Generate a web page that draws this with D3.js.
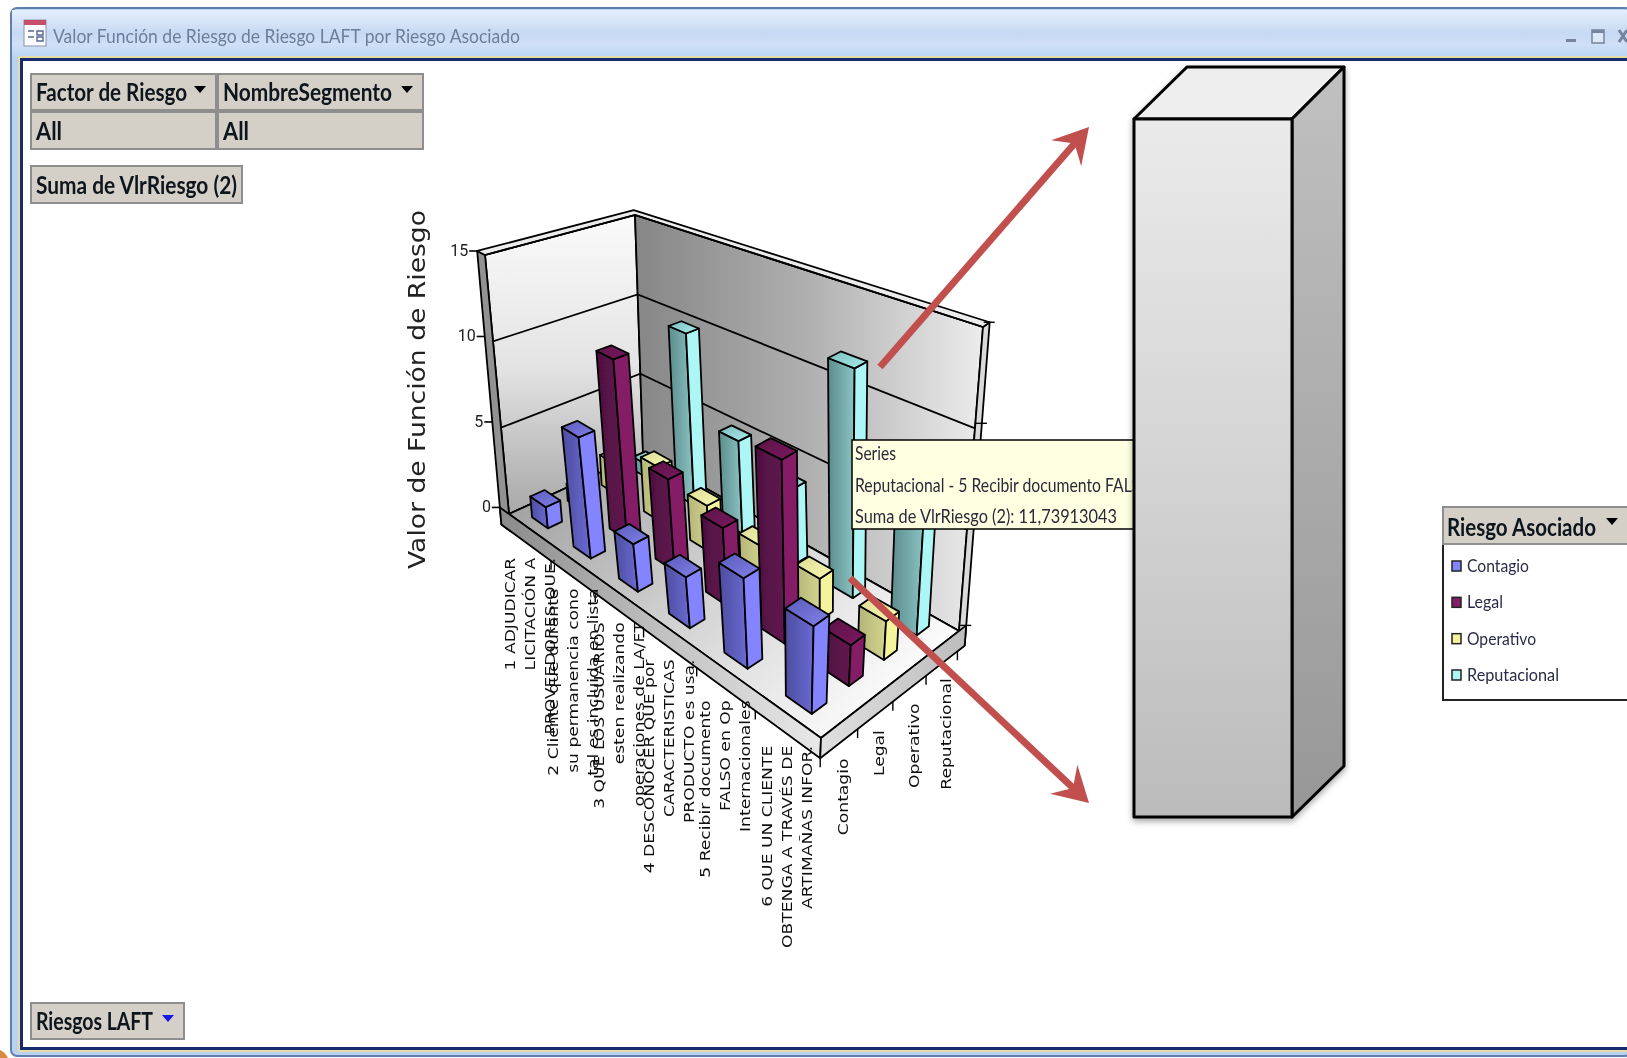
<!DOCTYPE html>
<html>
<head>
<meta charset="utf-8">
<title>Valor Función de Riesgo</title>
<script src="https://cdn.jsdelivr.net/npm/d3@7"></script>
<style>
  html, body { margin: 0; padding: 0; background: #fff; overflow: hidden; }
  svg { display: block; }
  .ui { font-family: Lato, "Noto Sans", sans-serif; }
  .chart { font-family: "DejaVu Sans", sans-serif; }
</style>
</head>
<body>
<svg width="1627" height="1058"></svg>
<script>
// valores
const categories = ["1", "2", "3", "4", "5", "6"];
const categoryLines = [
    ["1 ADJUDICAR", "LICITACIÓN  A", "PROVEEDORES QUE."],
    ["2 Cliente que durante", "su permanencia cono", "tal es incluida en lista"],
    ["3 QUE LOS USUARIOS", "esten realizando", "operaciones de LA/FT"],
    ["4 DESCONOCER QUE por", "CARACTERISTICAS", "PRODUCTO es usa."],
    ["5 Recibir documento", "FALSO en Op", "Internacionales"],
    ["6 QUE UN CLIENTE", "OBTENGA A TRAVÉS DE", "ARTIMAÑAS INFOR."]
];
const seriesNames = ["Contagio", "Legal", "Operativo", "Reputacional"];
const contagio     = [1.2, 6.6, 2.5, 2.6, 4.5, 4.3];
const legal        = [1.0, 10.0, 4.9, 4.0, 9.2, 2.0];
const operativo    = [1.8, 3.1, 2.5, 2.0, 2.1, 1.9];
const reputacional = [0.8, 9.9, 5.1, 4.0, 11.74, 7.0];
const seriesValues = [contagio, legal, operativo, reputacional];
const yTicks = [0, 5, 10, 15];
const tooltipLines = ["Series", "Reputacional - 5 Recibir documento FALSO", "Suma de VlrRiesgo (2): 11,73913043"];

// colores: [izq oscuro, izq claro, derecha, techo oscuro, techo claro]
const seriesColors = [
    ["#4d4da0", "#6a6ad2", "#8484ff", "#5c5cbc", "#8080e8"],
    ["#4e1040", "#621650", "#851f66", "#5c1248", "#7a1c5e"],
    ["#b4b478", "#d4d490", "#f4f49c", "#dcdc98", "#f8f8b0"],
    ["#5c8c8c", "#8cc4c4", "#adf6f6", "#7cbcbc", "#a8ecec"]
];

const svg = d3.select("svg");
const defs = svg.append("defs");
defs.append("filter").attr("id", "soft").append("feGaussianBlur").attr("stdDeviation", 0.45);
defs.append("filter").attr("id", "shadow").append("feDropShadow")
    .attr("dx", 0).attr("dy", 3).attr("stdDeviation", 3).attr("flood-opacity", 0.35);

function gradient(id, stops, x2, y2, x1, y1) {
    const g = defs.append("linearGradient").attr("id", id)
        .attr("x1", x1 || 0).attr("y1", y1 || 0).attr("x2", x2).attr("y2", y2);
    stops.forEach((c, i) => g.append("stop").attr("offset", i / (stops.length - 1)).attr("stop-color", c));
}
gradient("titleBar", ["#e4eefb", "#d6e5f8", "#c6d9f3", "#cfe0f6", "#bcd6f5"], 0, 1);
gradient("leftWall", ["#fafafa", "#e4e4e4", "#a8a8a8"], 0, 1);
gradient("backWall", ["#868686", "#b0b0b0", "#ececec"], 1, 0);
gradient("floorGrad", ["#989898", "#cfcfcf", "#fbfbfb"], 1, 0.6);
gradient("slabLeft", ["#8a8a8a", "#c0c0c0", "#e8e8e8"], 1, 0);
gradient("slabRight", ["#e0e0e0", "#bcbcbc"], 1, 0);
gradient("bigFront", ["#eaeaea", "#d4d4d4", "#bbbbbb"], 0, 1);
gradient("bigSide", ["#c0c0c0", "#979797"], 0, 1);
seriesColors.forEach((c, i) => {
    gradient("faceL" + i, [c[0], c[1]], 1, 0);
    gradient("faceR" + i, [c[2], c[2]], 1, 0);
    gradient("faceT" + i, [c[3], c[4]], 1, 1);
});

const root = svg.append("g").attr("filter", "url(#soft)");

// ---------- ventana ----------
root.append("rect").attr("x", 11).attr("y", 8).attr("width", 1620).attr("height", 1048)
    .attr("rx", 6).attr("fill", "#b9d2f0").attr("stroke", "#5f80ac").attr("stroke-width", 2);
root.append("rect").attr("x", 12).attr("y", 10).attr("width", 1615).attr("height", 46).attr("fill", "url(#titleBar)");
root.append("rect").attr("x", 18).attr("y", 56).attr("width", 1609).attr("height", 996).attr("fill", "#e8d9a8");
root.append("rect").attr("x", 20).attr("y", 58).attr("width", 1607).attr("height", 992).attr("fill", "#12296e");
root.append("rect").attr("x", 23).attr("y", 61).attr("width", 1604).attr("height", 986).attr("fill", "#fff");
root.append("path").attr("d", "M0,1058 L0,1050 Q5,1052 8,1058 Z").attr("fill", "#d98a3c");

root.append("rect").attr("x", 24).attr("y", 20).attr("width", 22).attr("height", 26).attr("fill", "#fbfbff").attr("stroke", "#8a94a8");
root.append("rect").attr("x", 24).attr("y", 20).attr("width", 22).attr("height", 5).attr("fill", "#c8506a");
root.append("path").attr("d", "M28,31h6M28,37h6M37,31h6v4h-6zM37,37h6v4h-6z").attr("fill", "none").attr("stroke", "#57688a").attr("stroke-width", 1.4);
root.append("text").attr("class", "ui").attr("x", 53).attr("y", 43).attr("font-size", 20).attr("fill", "#6c7f9a")
    .attr("textLength", 467).attr("lengthAdjust", "spacingAndGlyphs")
    .text("Valor Función de Riesgo de Riesgo LAFT por Riesgo Asociado");
root.append("rect").attr("x", 1566).attr("y", 39).attr("width", 10).attr("height", 3).attr("fill", "#74859e");
root.append("rect").attr("x", 1592).attr("y", 30).attr("width", 12).attr("height", 13).attr("fill", "#dce8f8").attr("stroke", "#74859e").attr("stroke-width", 1.5);
root.append("rect").attr("x", 1592).attr("y", 30).attr("width", 12).attr("height", 3).attr("fill", "#74859e");
root.append("path").attr("d", "M1619,30 L1627,42 M1627,30 L1619,42").attr("stroke", "#74859e").attr("stroke-width", 3);

// botones de campo
function fieldButton(x, y, w, h, label, tw, arrow) {
    root.append("rect").attr("x", x).attr("y", y).attr("width", w).attr("height", h)
        .attr("fill", "#d4d0c8").attr("stroke", "#8e8e8e").attr("stroke-width", 2);
    root.append("text").attr("class", "ui").attr("x", x + 5).attr("y", y + h / 2 + 9)
        .attr("font-size", 25).attr("font-weight", 700).attr("fill", "#10141c")
        .attr("textLength", tw).attr("lengthAdjust", "spacingAndGlyphs").text(label);
    if (arrow) {
        const ax = x + w - 22, ay = y + h / 2 - 6;
        root.append("path").attr("d", `M${ax},${ay} h12 l-6,7 z`).attr("fill", arrow);
    }
}
fieldButton(31, 74, 185, 36, "Factor de Riesgo", 151, "#000");
fieldButton(218, 74, 205, 36, "NombreSegmento", 169, "#000");
fieldButton(31, 112, 185, 37, "All", 26);
fieldButton(218, 112, 205, 37, "All", 26);
fieldButton(31, 166, 211, 37, "Suma de VlrRiesgo (2)", 201);
fieldButton(31, 1003, 153, 36, "Riesgos LAFT", 117, "#1616e8");

// ---------- proyeccion: cuadrado unidad -> cuadrilatero (homografia) ----------
function homography(p) {
    // p: esquinas en (u,v) = (0,0), (1,0), (1,1), (0,1)
    const [a, b, c, d] = p;
    const dx1 = b[0] - c[0], dx2 = d[0] - c[0], sx = a[0] - b[0] + c[0] - d[0];
    const dy1 = b[1] - c[1], dy2 = d[1] - c[1], sy = a[1] - b[1] + c[1] - d[1];
    const det = dx1 * dy2 - dx2 * dy1;
    const g = (sx * dy2 - dx2 * sy) / det, h = (dx1 * sy - sx * dy1) / det;
    return (u, v) => {
        const w = g * u + h * v + 1;
        return [
            ((b[0] - a[0] + g * b[0]) * u + (d[0] - a[0] + h * d[0]) * v + a[0]) / w,
            ((b[1] - a[1] + g * b[1]) * u + (d[1] - a[1] + h * d[1]) * v + a[1]) / w
        ];
    };
}
// esquinas del piso y del techo: izquierda, frente, derecha, fondo
const floorH = homography([[509, 514], [821, 738], [959, 631], [643, 453]]);
const topH   = homography([[485, 255], [833, 433], [983, 327], [635, 215]]);

const uScale = d3.scaleBand(categories, [0, 1]);
const vScale = d3.scaleBand(seriesNames, [0, 1]);
const yScale = d3.scaleLinear([0, 15], [0, 1]);

function project(u, val, v) {
    const f = floorH(u, v), t = topH(u, v), k = yScale(val);
    return [f[0] + (t[0] - f[0]) * k, f[1] + (t[1] - f[1]) * k];
}
const poly = d3.line().curve(d3.curveLinearClosed);
const chart = root.append("g").attr("class", "chart");
function face(points, fill, sw) {
    return chart.append("path").attr("d", poly(points.map(q => project(q[0], q[1], q[2]))))
        .attr("fill", fill).attr("stroke", "#000").attr("stroke-width", sw || 1.8).attr("stroke-linejoin", "round");
}

const tu = 0.04, tv = 0.06, base = -1; // grosor de paredes y base
const yMax = 15;

// paredes
face([[0, 0, 0], [0, yMax, 0], [0, yMax, 1], [0, 0, 1]], "url(#leftWall)");
face([[0, 0, 1], [0, yMax, 1], [1, yMax, 1], [1, 0, 1]], "url(#backWall)");
face([[-tu, base, 0], [-tu, yMax, 0], [0, yMax, 0], [0, 0, 0], [0, base, 0]], "#929292");
face([[1, base, 1], [1, yMax, 1], [1, yMax, 1 + tv], [1, base, 1 + tv]], "#dadada");
face([[-tu, yMax, 0], [0, yMax, 0], [0, yMax, 1], [1, yMax, 1], [1, yMax, 1 + tv], [-tu, yMax, 1 + tv]], "#ececec");

// lineas de division
yTicks.forEach(t => {
    const l = d3.line();
    chart.append("path").attr("fill", "none").attr("stroke", "#000").attr("stroke-width", 1.8)
        .attr("d", l([project(0, t, 0), project(0, t, 1), project(1, t, 1)]));
    const a = project(-tu, t, 0);
    chart.append("path").attr("stroke", "#000").attr("stroke-width", 1.6)
        .attr("d", l([[a[0] - 8, a[1]], a]));
    chart.append("text").attr("x", a[0] - 9).attr("y", a[1] + 5).attr("text-anchor", "end")
        .attr("font-family", "Roboto, sans-serif").attr("font-size", 16).attr("fill", "#222").text(t);
    const r = project(1, t, 1 + tv);
    chart.append("path").attr("stroke", "#000").attr("stroke-width", 1.4)
        .attr("d", l([[r[0] - 6, r[1]], [r[0] + 5, r[1]]]));
});

// piso y base
face([[0, 0, 0], [1, 0, 0], [1, 0, 1], [0, 0, 1]], "url(#floorGrad)");
face([[-tu, base, 0], [1, base, 0], [1, 0, 0], [0, 0, 0], [-tu, 0, 0]], "url(#slabLeft)");
face([[1, base, 0], [1, base, 1 + tv], [1, 0, 1 + tv], [1, 0, 0]], "url(#slabRight)");
face([[1, 0, 0], [1, 0, 1 + tv], [1, 0, 1]], "#f4f4f4", 1);

// marcas de los ejes
const tickLine = d3.line();
categories.forEach((c, i) => {
    const p = project(uScale(c) + uScale.bandwidth(), base, 0);
    chart.append("path").attr("stroke", "#000").attr("stroke-width", 1.4).attr("d", tickLine([p, [p[0], p[1] + 9]]));
});
seriesNames.forEach(s => {
    const p = project(1, base, vScale(s) + vScale.bandwidth());
    chart.append("path").attr("stroke", "#000").attr("stroke-width", 1.4).attr("d", tickLine([p, [p[0], p[1] + 9]]));
});

// barras
const barShare = 0.39;
const bars = [];
seriesNames.forEach((s, si) => {
    seriesValues[si].forEach((val, ci) => {
        bars.push({ si, ci, val, s, c: categories[ci] });
    });
});
bars.sort((a, b) => (a.ci - a.si) - (b.ci - b.si));
bars.forEach(d => {
    const uw = uScale.bandwidth(), vw = vScale.bandwidth();
    const u0 = uScale(d.c) + uw * (1 - barShare) / 2, u1 = u0 + uw * barShare;
    const v0 = vScale(d.s) + vw * (1 - barShare) / 2, v1 = v0 + vw * barShare;
    face([[u0, 0, v0], [u0, d.val, v0], [u1, d.val, v0], [u1, 0, v0]], `url(#faceL${d.si})`);
    face([[u1, 0, v0], [u1, d.val, v0], [u1, d.val, v1], [u1, 0, v1]], `url(#faceR${d.si})`);
    face([[u0, d.val, v0], [u1, d.val, v0], [u1, d.val, v1], [u0, d.val, v1]], `url(#faceT${d.si})`);
});

// etiquetas verticales
function vLabel(x, y, txt) {
    chart.append("text").attr("transform", `translate(${x},${y}) rotate(-90) scale(1.27,1)`)
        .attr("text-anchor", "end").attr("font-size", 13.5).attr("fill", "#111").text(txt);
}
const lineGap = 20;
categoryLines.forEach((lines, ci) => {
    const p = project(uScale(categories[ci]) + uScale.bandwidth() / 2, base, 0);
    lines.forEach((t, li) => vLabel(p[0] + (li - 1) * lineGap + 5, p[1] + 12, t));
});
seriesNames.forEach(s => {
    const p = project(1, base, vScale(s) + vScale.bandwidth() / 2);
    vLabel(p[0] + 9, p[1] + 15, s);
});
chart.append("text").attr("transform", "translate(425,569) rotate(-90)")
    .attr("font-size", 23).attr("fill", "#222").attr("textLength", 359).attr("lengthAdjust", "spacingAndGlyphs")
    .text("Valor de Función de Riesgo");

// ---------- tooltip ----------
const clipT = defs.append("clipPath").attr("id", "tipClip");
clipT.append("rect").attr("x", 852).attr("y", 440).attr("width", 282).attr("height", 90);
root.append("rect").attr("x", 852).attr("y", 440).attr("width", 290).attr("height", 89)
    .attr("fill", "#ffffe1").attr("stroke", "#000").attr("stroke-width", 1.5);
const tip = root.append("g").attr("clip-path", "url(#tipClip)").attr("class", "ui");
[[tooltipLines[0], 460, 41], [tooltipLines[1], 492, 298], [tooltipLines[2], 523, 262]].forEach(r => {
    tip.append("text").attr("x", 855).attr("y", r[1]).attr("font-size", 20).attr("fill", "#2a2a3a")
        .attr("textLength", r[2]).attr("lengthAdjust", "spacingAndGlyphs").text(r[0]);
});

// ---------- barra ampliada y flechas ----------
const bigBar = root.append("g").attr("filter", "url(#shadow)");
function bigFace(pts, fill) {
    bigBar.append("path").attr("d", poly(pts)).attr("fill", fill).attr("stroke", "#000")
        .attr("stroke-width", 3).attr("stroke-linejoin", "round");
}
bigFace([[1134, 119], [1187, 67], [1344, 67], [1292, 119]], "#eeeeee");
bigFace([[1292, 119], [1344, 67], [1344, 766], [1292, 817]], "url(#bigSide)");
bigFace([[1134, 119], [1292, 119], [1292, 817], [1134, 817]], "url(#bigFront)");

function arrow(x1, y1, x2, y2) {
    const a = Math.atan2(y2 - y1, x2 - x1), L = 40, W = 0.52, col = "#c0504d";
    const back = 10;
    const ex = x2 - back * Math.cos(a), ey = y2 - back * Math.sin(a);
    root.append("path").attr("d", d3.line()([[x1, y1], [ex, ey]])).attr("stroke", col).attr("stroke-width", 7);
    const bar = (s) => [x2 - L * Math.cos(a + s * W), y2 - L * Math.sin(a + s * W)];
    root.append("path").attr("d", poly([[x2, y2], bar(1), [x2 - 22 * Math.cos(a), y2 - 22 * Math.sin(a)], bar(-1)])).attr("fill", col);
}
arrow(880, 367, 1089, 127);
arrow(850, 578, 1089, 803);

// ---------- leyenda ----------
root.append("rect").attr("x", 1443).attr("y", 544).attr("width", 190).attr("height", 156)
    .attr("fill", "#fff").attr("stroke", "#222").attr("stroke-width", 2);
root.append("rect").attr("x", 1443).attr("y", 507).attr("width", 190).attr("height", 37)
    .attr("fill", "#d4d0c8").attr("stroke", "#8e8e8e").attr("stroke-width", 2);
root.append("text").attr("class", "ui").attr("x", 1447).attr("y", 536).attr("font-size", 25).attr("font-weight", 700)
    .attr("fill", "#10141c").attr("textLength", 149).attr("lengthAdjust", "spacingAndGlyphs").text("Riesgo Asociado");
root.append("path").attr("d", "M1606,518 h12 l-6,7 z").attr("fill", "#000");
const legendY = d3.scalePoint(seriesNames, [566, 675]);
seriesNames.forEach((s, i) => {
    const y = legendY(s);
    root.append("rect").attr("x", 1452).attr("y", y - 5).attr("width", 9).attr("height", 10)
        .attr("fill", seriesColors[i][2]).attr("stroke", "#222").attr("stroke-width", 1.5);
    root.append("text").attr("class", "ui").attr("x", 1467).attr("y", y + 6).attr("font-size", 18).attr("fill", "#2a2a48")
        .attr("textLength", [62, 36, 69, 92][i]).attr("lengthAdjust", "spacingAndGlyphs").text(s);
});
</script>
</body>
</html>
